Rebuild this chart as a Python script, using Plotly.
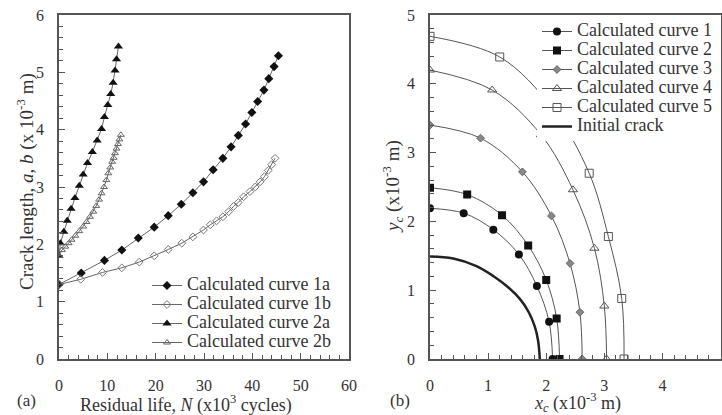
import plotly.graph_objects as go

# ---------------- Panel (a): crack length vs residual life ----------------
n_1a = [0, 4.6, 9.4, 13.0, 16.4, 19.7, 22.6, 25.3, 27.7, 29.9, 31.9, 33.9,
        35.6, 37.1, 38.6, 39.9, 41.1, 42.4, 43.4, 44.5, 45.4]
a_1a = [1.30, 1.50, 1.72, 1.90, 2.11, 2.30, 2.50, 2.70, 2.90, 3.09, 3.30, 3.50,
        3.70, 3.90, 4.10, 4.30, 4.49, 4.69, 4.89, 5.10, 5.29]

n_1b = [0, 4.5, 9.0, 13.0, 16.6, 19.7, 22.6, 25.4, 27.7, 29.9, 31.3, 32.6,
        33.9, 35.1, 36.1, 37.1, 38.2, 39.5, 40.6, 41.6, 42.5, 43.3, 44.0, 44.7]
b_1b = [1.30, 1.39, 1.51, 1.59, 1.69, 1.80, 1.91, 2.02, 2.13, 2.25, 2.34, 2.41,
        2.48, 2.57, 2.66, 2.73, 2.83, 2.92, 3.00, 3.09, 3.18, 3.29, 3.39, 3.50]

n_2a = [0, 0.3, 1.0, 1.7, 2.5, 3.3, 4.2, 5.0, 5.9, 6.9, 7.9, 8.8, 9.4, 10.1,
        10.7, 11.2, 11.6, 11.9, 12.3]
a_2a = [1.80, 2.02, 2.22, 2.41, 2.62, 2.81, 3.02, 3.22, 3.42, 3.61, 3.81, 4.01,
        4.22, 4.43, 4.62, 4.82, 5.03, 5.23, 5.45]

n_2b = [0, 0.6, 1.3, 2.0, 2.6, 3.4, 4.2, 5.0, 5.7, 6.4, 7.1, 7.7, 8.3, 8.8,
        9.3, 9.8, 10.2, 10.6, 11.0, 11.3, 11.6, 11.9, 12.2, 12.5, 12.8]
b_2b = [1.80, 1.90, 1.96, 2.02, 2.08, 2.15, 2.23, 2.31, 2.39, 2.48, 2.57, 2.67,
        2.78, 2.89, 3.00, 3.12, 3.24, 3.34, 3.44, 3.51, 3.59, 3.67, 3.75, 3.83, 3.91]

# ---------------- Panel (b): crack front shapes ----------------
xc_1 = [0, 0.58, 1.09, 1.53, 1.84, 2.05, 2.11]
yc_1 = [2.19, 2.12, 1.88, 1.52, 1.06, 0.54, 0]
xc_2 = [0, 0.64, 1.24, 1.69, 2.00, 2.18, 2.23]
yc_2 = [2.49, 2.39, 2.09, 1.65, 1.15, 0.59, 0]
xc_3 = [0, 0.87, 1.59, 2.09, 2.41, 2.58, 2.62]
yc_3 = [3.40, 3.21, 2.72, 2.08, 1.39, 0.68, 0]
xc_4 = [0, 1.07, 1.91, 2.46, 2.83, 3.00, 3.04]
yc_4 = [4.20, 3.91, 3.26, 2.46, 1.61, 0.77, 0]
xc_5 = [0, 1.20, 2.10, 2.74, 3.07, 3.30, 3.34]
yc_5 = [4.69, 4.39, 3.65, 2.70, 1.78, 0.88, 0]
xc_init = [0, 0.40, 0.80, 1.10, 1.35, 1.55, 1.70, 1.80, 1.86, 1.89]
yc_init = [1.49, 1.46, 1.35, 1.20, 1.04, 0.87, 0.68, 0.48, 0.27, 0.0]

names_a = ["Calculated curve 1a", "Calculated curve 1b",
           "Calculated curve 2a", "Calculated curve 2b"]
names_b = ["Calculated curve 1", "Calculated curve 2", "Calculated curve 3",
           "Calculated curve 4", "Calculated curve 5", "Initial crack"]

FONT = "Liberation Serif"
TXT = "#333333"
LINE = "#666666"


def lname(s):
    return '<span style="font-size:18px">' + s + '</span>'


fig = go.Figure()

# panel (a)
fig.add_trace(go.Scatter(x=n_1a, y=a_1a, name=lname(names_a[0]), mode="lines+markers",
                         line=dict(color=LINE, width=1),
                         marker=dict(symbol="diamond", size=7, color="#111111"),
                         xaxis="x", yaxis="y", legend="legend"))
fig.add_trace(go.Scatter(x=n_1b, y=b_1b, name=lname(names_a[1]), mode="lines+markers",
                         line=dict(color=LINE, width=1),
                         marker=dict(symbol="diamond-open", size=6, color="#777777",
                                     line=dict(width=1)),
                         xaxis="x", yaxis="y", legend="legend"))
fig.add_trace(go.Scatter(x=n_2a, y=a_2a, name=lname(names_a[2]), mode="lines+markers",
                         line=dict(color=LINE, width=1),
                         marker=dict(symbol="triangle-up", size=8, color="#111111"),
                         xaxis="x", yaxis="y", legend="legend"))
fig.add_trace(go.Scatter(x=n_2b, y=b_2b, name=lname(names_a[3]), mode="lines+markers",
                         line=dict(color=LINE, width=1),
                         marker=dict(symbol="triangle-up-open", size=6, color="#666666",
                                     line=dict(width=1)),
                         xaxis="x", yaxis="y", legend="legend"))

# panel (b)
specs_b = [
    (xc_1, yc_1, dict(symbol="circle", size=8, color="#111111")),
    (xc_2, yc_2, dict(symbol="square", size=8, color="#111111")),
    (xc_3, yc_3, dict(symbol="diamond", size=6, color="#888888",
                      line=dict(color="#666666", width=1))),
    (xc_4, yc_4, dict(symbol="triangle-up-open", size=8, color="#555555",
                      line=dict(width=1))),
    (xc_5, yc_5, dict(symbol="square-open", size=8, color="#555555",
                      line=dict(width=1))),
]
for (xs, ys, mk), nm in zip(specs_b, names_b[:5]):
    fig.add_trace(go.Scatter(x=xs, y=ys, name=lname(nm), mode="lines+markers",
                             line=dict(color="#555555", width=1, shape="spline"),
                             marker=mk, xaxis="x2", yaxis="y2", legend="legend2"))
fig.add_trace(go.Scatter(x=xc_init, y=yc_init, name=lname(names_b[5]), mode="lines",
                         line=dict(color="#222222", width=2.5, shape="spline"),
                         xaxis="x2", yaxis="y2", legend="legend2"))

W, H = 722, 415
y_dom = [1 - 359 / H, 1 - 15 / H]

axis_common = dict(showgrid=False, zeroline=False, showline=True, mirror=True,
                   linecolor="#555555", linewidth=1.5, ticks="inside", ticklen=6,
                   tickcolor="#555555", tickwidth=1,
                   tickfont=dict(family=FONT, size=16, color=TXT))

fig.update_layout(
    width=W, height=H,
    margin=dict(l=0, r=0, t=0, b=0, autoexpand=False),
    paper_bgcolor="white", plot_bgcolor="white",
    xaxis=dict(domain=[59 / W, 349 / W], range=[0, 60], dtick=10,
               minor=dict(ticks="inside", dtick=2, ticklen=4, tickcolor="#555555"),
               ticklabelstandoff=11, anchor="y", **axis_common),
    yaxis=dict(domain=y_dom, range=[0, 6], dtick=1,
               minor=dict(ticks="inside", dtick=0.2, ticklen=4, tickcolor="#555555"),
               ticklabelstandoff=10, anchor="x", **axis_common),
    xaxis2=dict(domain=[430 / W, 720.5 / W], range=[0, 5], dtick=1,
                minor=dict(ticks="inside", dtick=0.2, ticklen=4, tickcolor="#555555"),
                ticklabelstandoff=11, anchor="y2", **axis_common),
    yaxis2=dict(domain=y_dom, range=[0, 5], dtick=1,
                minor=dict(ticks="inside", dtick=0.2, ticklen=4, tickcolor="#555555"),
                ticklabelstandoff=10, anchor="x2", **axis_common),
    legend=dict(x=147 / W, y=1 - 271 / H, xanchor="left", yanchor="top",
                bgcolor="rgba(255,255,255,0)", borderwidth=0,
                font=dict(family=FONT, size=12, color=TXT), itemwidth=30),
    legend2=dict(x=537 / W, y=1 - 17 / H, xanchor="left", yanchor="top",
                 bgcolor="white", borderwidth=0,
                 font=dict(family=FONT, size=12, color=TXT), itemwidth=30),
    showlegend=True,
)

ann = [
    dict(text="Residual life, <i>N</i> (x10<sup>3</sup> cycles)", x=186 / W, y=1 - 404 / H,
         xanchor="center", yanchor="middle", font=dict(size=18)),
    dict(text="Crack length, <i>a</i>, <i>b</i> (x 10<sup>-3</sup> m)", x=25 / W, y=1 - 182 / H,
         xanchor="center", yanchor="middle", textangle=-90, font=dict(size=19)),
    dict(text="(a)", x=27 / W, y=1 - 400 / H, xanchor="center", yanchor="middle",
         font=dict(size=17)),
    dict(text="<i>x<sub>c</sub></i> (x10<sup>-3</sup> m)", x=577 / W, y=1 - 402.5 / H,
         xanchor="center", yanchor="middle", font=dict(size=18)),
    dict(text="<i>y<sub>c</sub></i> (x10<sup>-3</sup> m)", x=393 / W, y=1 - 187 / H,
         xanchor="center", yanchor="middle", textangle=-90, font=dict(size=19)),
    dict(text="(b)", x=400 / W, y=1 - 400 / H, xanchor="center", yanchor="middle",
         font=dict(size=17)),
]
for a in ann:
    a.update(xref="paper", yref="paper", showarrow=False)
    a["font"] = dict(family=FONT, color=TXT, **a["font"])
fig.update_layout(annotations=ann)

fig.write_html("out.html", config={"displayModeBar": False},
               post_script="document.body.style.margin='0';document.body.style.overflow='hidden';")
